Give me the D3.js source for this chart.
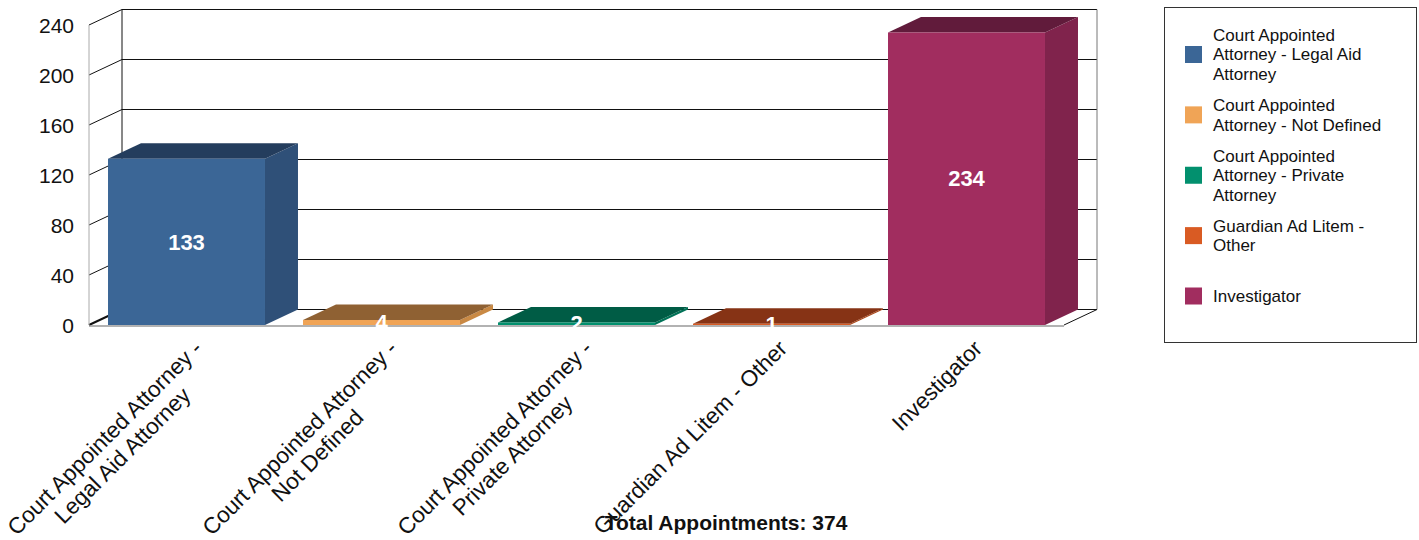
<!DOCTYPE html>
<html><head><meta charset="utf-8">
<script src="https://cdnjs.cloudflare.com/ajax/libs/d3/7.8.5/d3.min.js"></script>
<style>body{margin:0;background:#fff;}svg{display:block;font-family:Arial,"Liberation Sans",sans-serif;}</style>
</head><body><svg id="c" width="1419" height="540"></svg>
<script>
const categories = ["Court Appointed Attorney - Legal Aid Attorney","Court Appointed Attorney - Not Defined","Court Appointed Attorney - Private Attorney","Guardian Ad Litem - Other","Investigator"];
const values = [133, 4, 2, 1, 234];
const axisLabelLines = [["Court Appointed Attorney -","Legal Aid Attorney"],["Court Appointed Attorney -","Not Defined"],["Court Appointed Attorney -","Private Attorney"],["Guardian Ad Litem - Other"],["Investigator"]];
const legendLines = [["Court Appointed","Attorney - Legal Aid","Attorney"],["Court Appointed","Attorney - Not Defined"],["Court Appointed","Attorney - Private","Attorney"],["Guardian Ad Litem -","Other"],["Investigator"]];
const yTicks = [0, 40, 80, 120, 160, 200, 240];
const totalLabel = "Total Appointments: 374";
const frontColors = ["#3b6696","#f0a456","#02906e","#d95b23","#a12d5f"];
const sideColors  = ["#2f5078","#c98944","#017257","#ad4819","#80234c"];
const topColors   = ["#243d5d","#8f6133","#005c45","#863315","#611b3b"];

const svg = d3.select("#c");
const X0 = 89, X1 = 1064, Y0 = 325, Ytop = 25;
const DX = 33, DY = -15.5;
const x = d3.scaleBand().domain(categories).range([X0, X1]).paddingInner(0.195).paddingOuter(0.0975);
const y = d3.scaleLinear().domain([0, 240]).range([Y0, Ytop]);

// walls / grid
const g = svg.append("g");
g.append("path").attr("d", `M${X0},${Y0}L${X0+DX},${Y0+DY}L${X1+DX},${Y0+DY}L${X1},${Y0}Z`).attr("fill","#fff");
yTicks.forEach(t => {
  const yy = y(t);
  g.append("line").attr("x1", X0+DX).attr("x2", X1+DX).attr("y1", yy+DY).attr("y2", yy+DY).attr("stroke","#111").attr("stroke-width",1);
  g.append("line").attr("x1", X0).attr("x2", X0+DX).attr("y1", yy).attr("y2", yy+DY).attr("stroke","#111").attr("stroke-width", t===0?2:1);
});
g.append("line").attr("x1", X0+DX).attr("x2", X0+DX).attr("y1", y(240)+DY).attr("y2", Y0+DY).attr("stroke","#111");
g.append("line").attr("x1", X1+DX).attr("x2", X1+DX).attr("y1", y(240)+DY).attr("y2", Y0+DY).attr("stroke","#777");
g.append("line").attr("x1", X0).attr("x2", X0).attr("y1", y(240)).attr("y2", Y0).attr("stroke","#aaa");
g.append("line").attr("x1", X1).attr("x2", X1+DX).attr("y1", Y0).attr("y2", Y0+DY).attr("stroke","#111");
g.append("line").attr("x1", X0).attr("x2", X1).attr("y1", Y0+1).attr("y2", Y0+1).attr("stroke","#999").attr("stroke-width",1.5);

// y tick labels
svg.append("g").selectAll("text").data(yTicks).join("text")
  .attr("x", 74).attr("y", d => y(d) + 0.5).attr("dy","0.35em")
  .attr("text-anchor","end").attr("font-size", 21).attr("fill","#111").text(d => d);

// bars
const bw = x.bandwidth();
const bars = svg.append("g").selectAll("g").data(categories).join("g");
bars.each(function(c, i) {
  const gb = d3.select(this);
  const bx = x(c), yv = y(values[i]);
  gb.append("path").attr("d", `M${bx+bw},${yv}L${bx+bw+DX},${yv+DY}L${bx+bw+DX},${Y0+DY}L${bx+bw},${Y0}Z`).attr("fill", sideColors[i]);
  gb.append("path").attr("d", `M${bx},${yv}L${bx+DX},${yv+DY}L${bx+bw+DX},${yv+DY}L${bx+bw},${yv}Z`).attr("fill", topColors[i]);
  gb.append("rect").attr("x", bx).attr("y", yv).attr("width", bw).attr("height", Y0 - yv).attr("fill", frontColors[i]);
});
svg.append("g").selectAll("text").data(categories).join("text")
  .attr("x", c => x(c) + bw/2).attr("y", (c,i) => (y(values[i]) + Y0)/2).attr("dy","0.35em")
  .attr("text-anchor","middle").attr("font-size", 22).attr("font-weight","bold").attr("fill","#fff")
  .text((c,i) => values[i]);

// x labels
const fs = 22.5, lh = 25;
const xl = svg.append("g").selectAll("g").data(categories).join("g")
  .attr("transform", c => `translate(${x(c)+bw/2+5},${338}) rotate(-45)`);
xl.each(function(c, i) {
  const gl = d3.select(this);
  const lines = axisLabelLines[i];
  const texts = lines.map((l, j) => gl.append("text").attr("font-size", fs).attr("fill","#111")
      .attr("text-anchor","middle").attr("y", j*lh).attr("dy","0.75em").text(l));
  const widths = texts.map(t => t.node().getComputedTextLength());
  const W = d3.max(widths);
  texts.forEach(t => t.attr("x", -W/2));
});

// total label
svg.append("text").attr("x", 726).attr("y", 530).attr("text-anchor","middle")
  .attr("font-size", 21).attr("font-weight","bold").attr("fill","#111").text(totalLabel);

// legend
const lg = svg.append("g");
lg.append("rect").attr("x", 1164.5).attr("y", 7.5).attr("width", 252).attr("height", 335).attr("fill","#fff").attr("stroke","#333");
const lfs = 17, llh = 19.5;
const legY = d3.scaleLinear().domain([0, 4]).range([54.5, 296]);
categories.forEach((c, i) => {
  const cy = legY(i);
  lg.append("rect").attr("x", 1185).attr("y", cy - 8.5).attr("width", 17).attr("height", 17).attr("fill", frontColors[i]);
  const lines = legendLines[i];
  lines.forEach((l, j) => {
    lg.append("text").attr("x", 1213).attr("y", cy + (j - (lines.length-1)/2)*llh).attr("dy","0.35em")
      .attr("font-size", lfs).attr("fill","#111").text(l);
  });
});
</script></body></html>
